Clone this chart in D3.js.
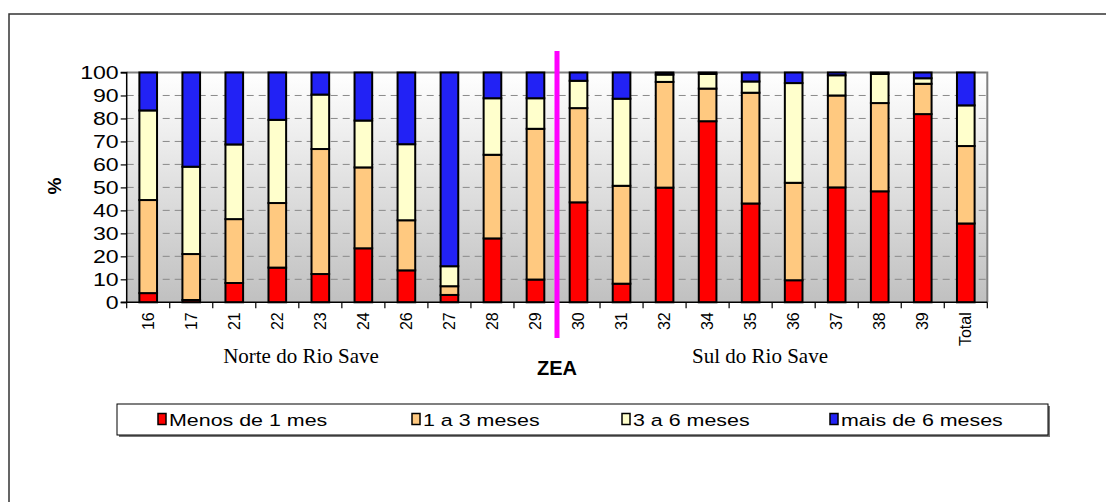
<!DOCTYPE html>
<html><head><meta charset="utf-8">
<script src="https://cdn.jsdelivr.net/npm/d3@7"></script>
<style>html,body{margin:0;padding:0;background:#fff}svg{display:block}</style>
</head><body>
<svg id="c" width="1106" height="502"></svg>
<script>
const categories = ["16","17","21","22","23","24","26","27","28","29","30","31","32","34","35","36","37","38","39","Total"];
const seriesNames = ["Menos de 1 mes","1 a 3 meses","3 a 6 meses","mais de 6 meses"];
const menos1 = [4,1,8.4,15.1,12.3,23.5,13.9,3.2,27.8,9.9,43.5,8.1,49.9,78.8,43,9.6,50,48.3,81.9,34.3];
const de1a3 = [40.5,20,27.8,28.1,54.4,35.2,21.8,3.8,36.4,65.6,41,42.6,46,14.2,48.2,42.4,40,38.4,13.2,33.7];
const de3a6 = [39,38,32.5,36.2,23.7,20.4,33.1,8.7,24.6,13.3,11.9,37.9,3.2,6.4,4.9,43.4,8.8,12.7,2.4,17.7];
const mais6 = [16.5,41,31.3,20.6,9.6,20.9,31.2,84.3,11.2,11.2,3.6,11.4,0.9,0.6,3.9,4.6,1.2,0.6,2.5,14.3];
const yTicks = [0,10,20,30,40,50,60,70,80,90,100];
const colors = ["#FF0000","#FFC980","#FFFFCC","#2222F5"];

const FONT = "Arial, 'Liberation Sans', sans-serif";
const svg = d3.select("#c");
const defs = svg.append("defs");
const grad = defs.append("linearGradient").attr("id","bg").attr("x1",0).attr("y1",0).attr("x2",0).attr("y2",1);
grad.append("stop").attr("offset","0%").attr("stop-color","#ffffff");
grad.append("stop").attr("offset","100%").attr("stop-color","#c0c0c0");

// outer frame
svg.append("rect").attr("x",9).attr("y",14).attr("width",1200).attr("height",600)
  .attr("fill","none").attr("stroke","#333").attr("stroke-width",1.5);

const x0 = 126.7, x1 = 987.3, yTop = 72.5, yBot = 302.3;
const x = d3.scaleBand().domain(categories).range([x0,x1]).paddingInner(0.59).paddingOuter(0.295);
const y = d3.scaleLinear().domain([0,100]).range([yBot,yTop]);

// plot background
svg.append("rect").attr("x",x0).attr("y",yTop).attr("width",x1-x0).attr("height",yBot-yTop).attr("fill","url(#bg)");
// grid
svg.append("g").selectAll("line").data(yTicks.filter(d=>d>0&&d<100)).join("line")
  .attr("x1",x0).attr("x2",x1).attr("y1",d=>y(d)).attr("y2",d=>y(d))
  .attr("stroke","#8a8a8a").attr("stroke-width",1).attr("stroke-dasharray","7,5");
// top and right border
svg.append("path").attr("d",`M${x0},${yTop}H${x1}V${yBot}`).attr("fill","none").attr("stroke","#808080").attr("stroke-width",2);

// stacked bars
const data = categories.map((c,i)=>({cat:c, a:menos1[i], b:de1a3[i], c2:de3a6[i], d:mais6[i]}));
const stack = d3.stack().keys(["a","b","c2","d"]);
const layers = stack(data);
svg.append("g").selectAll("g").data(layers).join("g").attr("fill",(d,i)=>colors[i])
  .selectAll("rect").data(d=>d).join("rect")
  .attr("x",d=>x(d.data.cat)).attr("width",x.bandwidth())
  .attr("y",d=>y(Math.min(100,d[1]))).attr("height",d=>Math.max(0,y(d[0])-y(Math.min(100,d[1]))))
  .attr("stroke","#000").attr("stroke-width",2);

// y axis
const ys = 1.25;
const yAxis = d3.axisLeft(y).tickValues(yTicks).tickSize(6).tickPadding(3);
const gy = svg.append("g").attr("transform",`translate(${x0},0)`).call(yAxis);
gy.select(".domain").attr("stroke","#000").attr("stroke-width",1.5);
gy.selectAll(".tick line").attr("stroke","#000").attr("stroke-width",1.2);
gy.selectAll("text").attr("font-family",FONT).attr("font-size",18.5).attr("fill","#000")
  .attr("x",-8/ys).attr("transform",`scale(${ys},1)`);
gy.select(".domain").attr("d",`M-6,${yTop}H0V${yBot}H-6`);

// x axis
const xAxis = d3.axisBottom(x).tickSize(0).tickPadding(0);
const gx = svg.append("g").attr("transform",`translate(0,${yBot})`).call(xAxis);
gx.select(".domain").attr("d",`M${x0},0H${x1}`).attr("stroke","#000").attr("stroke-width",1.5);
gx.selectAll(".tick text").attr("font-family",FONT).attr("font-size",16).attr("fill","#000")
  .attr("transform","rotate(-90)").attr("text-anchor","end").attr("dy","0.35em").attr("x",-10).attr("y",0);
// boundary ticks
const step = x.step();
gx.append("g").selectAll("line").data(d3.range(categories.length+1)).join("line")
  .attr("x1",i=>x0+i*step).attr("x2",i=>x0+i*step).attr("y1",0).attr("y2",6)
  .attr("stroke","#000").attr("stroke-width",1.2);

// ZEA separator line
const sepX = (x("29")+x("30")+x.bandwidth())/2;
svg.append("line").attr("x1",sepX).attr("x2",sepX).attr("y1",51).attr("y2",338)
  .attr("stroke","#FF00FF").attr("stroke-width",5);

// labels
svg.append("text").attr("transform","translate(61,186) rotate(-90)").attr("text-anchor","middle")
  .attr("font-family",FONT).attr("font-weight","bold").attr("font-size",19).text("%");
svg.append("text").attr("x",557).attr("y",375).attr("text-anchor","middle")
  .attr("font-family",FONT).attr("font-weight","bold").attr("font-size",20).text("ZEA");
svg.append("text").attr("x",301).attr("y",363).attr("text-anchor","middle")
  .attr("font-family","'Times New Roman','Liberation Serif',serif").attr("font-size",21).text("Norte do Rio Save");
svg.append("text").attr("x",760).attr("y",363).attr("text-anchor","middle")
  .attr("font-family","'Times New Roman','Liberation Serif',serif").attr("font-size",21).text("Sul do Rio Save");

// legend
svg.append("rect").attr("x",119).attr("y",406).attr("width",931).attr("height",31).attr("fill","#777");
svg.append("rect").attr("x",117).attr("y",404).attr("width",931).attr("height",31).attr("fill","#fff").attr("stroke","#000").attr("stroke-width",1);
const legX = [158,412,622,830];
const ls = 1.26;
const lg = svg.append("g").selectAll("g").data(seriesNames).join("g")
  .attr("transform",(d,i)=>`translate(${legX[i]},0)`);
lg.append("rect").attr("x",0).attr("y",413.5).attr("width",8).attr("height",11)
  .attr("fill",(d,i)=>colors[i]).attr("stroke","#000").attr("stroke-width",1.5);
lg.append("text").attr("x",11/ls).attr("y",426).attr("transform",`scale(${ls},1)`)
  .attr("font-family",FONT).attr("font-size",17).text(d=>d);
</script>
</body></html>
